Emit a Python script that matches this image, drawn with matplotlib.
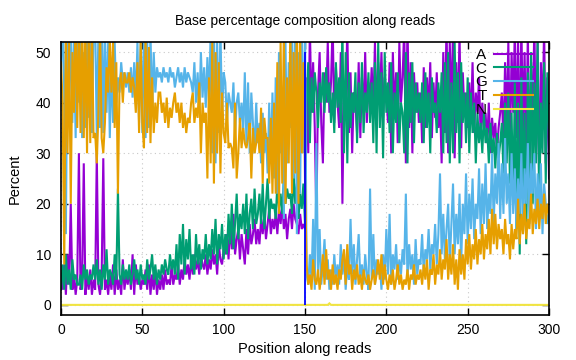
import matplotlib
matplotlib.use("Agg")
import matplotlib.pyplot as plt

# ---- data (percent per position) ----
positions = list(range(0, 301))

A_values = [
    5,
    3, 8, 2, 10, 4, 20, 3, 6, 2, 5,
    30, 3, 5, 28, 2, 6, 3, 7, 2, 5,
    3, 30, 4, 2, 6, 29, 3, 5, 2, 6,
    3, 8, 2, 7, 3, 5, 2, 9, 3, 6,
    4, 7, 3, 10, 2, 8, 4, 6, 3, 5,
    4, 7, 3, 8, 2, 6, 3, 7, 2, 5,
    3, 6, 3, 7, 4, 5, 4, 8, 4, 6,
    5, 8, 4, 7, 5, 9, 6, 8, 5, 9,
    6, 10, 7, 9, 6, 10, 8, 7, 10, 6,
    9, 7, 11, 8, 10, 6, 12, 9, 8, 11,
    10, 14, 9, 16, 11, 18, 10, 13, 15, 9,
    14, 11, 8, 15, 10, 16, 12, 14, 17, 12,
    15, 12, 17, 14, 18, 13, 16, 19, 14, 17,
    15, 18, 14, 19, 16, 20, 15, 18, 13, 17,
    19, 15, 20, 17, 16, 14, 18, 15, 16, 15,
    45, 30, 55, 38, 48, 35, 17, 42, 50, 36,
    28, 46, 40, 52, 38, 44, 56, 36, 47, 40,
    35, 50, 20, 44, 38, 55, 34, 46, 30, 42,
    40, 34, 48, 33, 45, 38, 50, 36, 44, 40,
    47, 38, 52, 36, 48, 40, 50, 37, 45, 42,
    36, 48, 30, 50, 38, 46, 32, 52, 40, 45,
    55, 28, 56, 35, 48, 30, 46, 38, 44, 36,
    42, 32, 47, 35, 45, 38, 48, 33, 44, 37,
    46, 35, 40, 28, 50, 34, 56, 30, 52, 38,
    55, 29, 48, 36, 54, 31, 46, 38, 42, 35,
    44, 36, 48, 34, 42, 38, 45, 33, 40, 35,
    38, 32, 40, 30, 37, 33, 36, 30, 35, 38,
    42, 32, 48, 35, 52, 30, 50, 38, 55, 33,
    52, 28, 56, 34, 50, 30, 54, 25, 48, 35,
    56, 30, 52, 22, 48, 36, 55, 28, 45, 25,
]

C_values = [
    3,
    8, 3, 10, 4, 7, 3, 9, 5, 6, 4,
    4, 6, 3, 8, 5, 7, 4, 6, 5, 8,
    5, 9, 4, 7, 3, 8, 5, 11, 4, 7,
    6, 4, 10, 5, 23, 6, 4, 8, 5, 7,
    5, 8, 4, 6, 9, 5, 7, 4, 8, 5,
    6, 4, 9, 5, 7, 10, 5, 8, 4, 7,
    5, 8, 6, 9, 7, 6, 10, 7, 9, 6,
    12, 5, 14, 8, 16, 6, 13, 9, 15, 7,
    10, 6, 14, 8, 12, 7, 11, 9, 14, 8,
    12, 9, 15, 10, 17, 8, 14, 11, 16, 9,
    14, 10, 18, 12, 20, 11, 16, 22, 13, 18,
    15, 20, 14, 22, 13, 18, 21, 15, 23, 16,
    18, 22, 16, 24, 15, 20, 25, 17, 21, 19,
    20, 17, 24, 19, 22, 18, 25, 20, 23, 21,
    22, 18, 26, 20, 24, 17, 22, 19, 24, 16,
    40, 48, 32, 45, 38, 46, 42, 35, 44, 40,
    46, 38, 47, 40, 44, 36, 42, 34, 48, 39,
    45, 36, 55, 30, 50, 28, 46, 35, 42, 38,
    46, 32, 44, 36, 48, 34, 42, 38, 46, 36,
    44, 32, 48, 30, 52, 35, 46, 29, 50, 38,
    44, 34, 48, 30, 42, 36, 46, 32, 40, 38,
    30, 50, 28, 46, 36, 48, 32, 44, 38, 42,
    36, 44, 32, 46, 35, 42, 30, 45, 38, 40,
    34, 44, 38, 46, 30, 48, 32, 50, 28, 44,
    30, 52, 34, 46, 28, 48, 36, 42, 32, 45,
    30, 42, 34, 40, 28, 38, 32, 36, 30, 38,
    32, 35, 28, 36, 30, 33, 27, 34, 29, 32,
    36, 26, 40, 28, 42, 24, 38, 20, 44, 15,
    40, 10, 45, 22, 38, 12, 46, 25, 50, 20,
    44, 28, 52, 18, 40, 30, 48, 24, 46, 35,
]

G_values = [
    45,
    60, 42, 14, 55, 38, 58, 36, 52, 33, 56,
    40, 56, 33, 50, 35, 58, 37, 54, 34, 55,
    56, 33, 54, 35, 57, 34, 55, 38, 52, 33,
    48, 36, 52, 40, 45, 42, 48, 44, 46, 43,
    46, 42, 47, 41, 48, 40, 52, 36, 53, 34,
    55, 33, 52, 35, 54, 38, 50, 42, 47, 45,
    46, 44, 47, 45, 46, 44, 47, 45, 46, 43,
    45, 47, 44, 46, 43, 47, 44, 46, 45, 44,
    42, 48, 40, 46, 38, 50, 41, 47, 39, 49,
    40, 54, 30, 56, 28, 52, 34, 55, 37, 46,
    44, 36, 42, 40, 38, 44, 34, 40, 42, 36,
    40, 34, 46, 32, 44, 30, 42, 36, 30, 40,
    32, 36, 28, 38, 30, 34, 26, 40, 28, 42,
    25, 45, 22, 50, 30, 40, 17, 52, 28, 48,
    35, 55, 25, 58, 14, 50, 22, 56, 30, 54,
    6, 4, 10, 5, 17, 3, 32, 6, 15, 4,
    8, 13, 5, 9, 3, 7, 4, 10, 5, 8,
    4, 12, 6, 10, 3, 8, 5, 17, 6, 12,
    4, 9, 14, 5, 8, 4, 10, 6, 3, 23,
    5, 14, 4, 9, 6, 8, 3, 10, 5, 15,
    6, 18, 4, 10, 7, 12, 5, 9, 6, 11,
    8, 22, 5, 12, 7, 10, 4, 13, 6, 9,
    8, 14, 6, 11, 9, 15, 7, 12, 10, 16,
    8, 14, 26, 10, 18, 9, 15, 20, 8, 16,
    24, 10, 18, 12, 22, 8, 20, 14, 26, 12,
    22, 15, 25, 13, 20, 17, 27, 14, 24, 16,
    28, 15, 22, 18, 30, 16, 26, 20, 32, 17,
    28, 18, 33, 20, 26, 16, 30, 18, 27, 15,
    25, 18, 30, 14, 27, 20, 32, 16, 28, 22,
    30, 15, 26, 18, 28, 14, 24, 20, 16, 18,
]

T_values = [
    48,
    40, 8, 55, 30, 52, 20, 50, 38, 58, 35,
    55, 34, 58, 33, 56, 30, 55, 32, 57, 33,
    34, 28, 38, 55, 33, 30, 36, 47, 42, 53,
    42, 52, 35, 48, 22, 44, 46, 40, 46, 44,
    44, 46, 42, 45, 43, 38, 48, 34, 52, 36,
    31, 53, 34, 51, 32, 45, 34, 40, 36, 42,
    42, 38, 40, 36, 41, 35, 39, 37, 40, 42,
    38, 40, 36, 40, 35, 38, 34, 37, 36, 40,
    42, 36, 39, 37, 44, 30, 40, 36, 38, 25,
    45, 28, 52, 24, 50, 30, 48, 26, 42, 34,
    32, 40, 31, 32, 31, 27, 40, 25, 30, 37,
    31, 35, 32, 31, 33, 36, 25, 35, 30, 32,
    35, 30, 39, 24, 37, 33, 33, 24, 37, 22,
    40, 22, 48, 18, 52, 24, 55, 20, 45, 28,
    56, 22, 50, 26, 58, 20, 54, 30, 48, 25,
    8, 4, 6, 3, 9, 5, 4, 7, 3, 6,
    10, 4, 11, 5, 7, 3, 8, 4, 6, 3,
    7, 5, 9, 11, 4, 12, 6, 8, 3, 7,
    5, 8, 4, 6, 3, 7, 5, 4, 6, 3,
    5, 7, 4, 6, 9, 5, 10, 4, 8, 5,
    3, 6, 4, 7, 3, 5, 8, 4, 6, 3,
    5, 4, 7, 3, 6, 5, 8, 4, 6, 5,
    7, 4, 8, 5, 9, 3, 7, 6, 10, 4,
    8, 6, 11, 5, 9, 7, 13, 5, 10, 6,
    12, 4, 9, 3, 11, 6, 10, 5, 13, 8,
    14, 7, 12, 9, 15, 8, 13, 10, 16, 9,
    14, 11, 17, 10, 19, 12, 18, 11, 16, 13,
    15, 10, 17, 12, 14, 9, 16, 11, 15, 13,
    21, 12, 18, 14, 20, 13, 17, 15, 22, 14,
    19, 16, 21, 15, 20, 17, 22, 16, 20, 18,
]

N_values = [
    0,
    0, 0, 0, 0, 0, 0, 0, 0, 0, 0,
    0, 0, 0, 0, 0, 0, 0, 0, 0, 0,
    0, 0, 0, 0, 0, 0, 0, 0, 0, 0,
    0, 0, 0, 0, 0, 0, 0, 0, 0, 0,
    0, 0, 0, 0, 0, 0, 0, 0, 0, 0,
    0, 0, 0, 0, 0, 0, 0, 0, 0, 0,
    0, 0, 0, 0, 0, 0, 0, 0, 0, 0,
    0, 0, 0, 0, 0, 0, 0, 0, 0, 0,
    0, 0, 0, 0, 0, 0, 0, 0, 0, 0,
    0, 0, 0, 0, 0, 0, 0, 0, 0, 0,
    0, 0, 0, 0, 0, 0, 0, 0, 0, 0,
    0, 0, 0, 0, 0, 0, 0, 0, 0, 0,
    0, 0, 0, 0, 0, 0, 0, 0, 0, 0,
    0, 0, 0, 0, 0, 0, 0, 0, 0, 0,
    0, 0, 0, 0, 0, 0, 0, 0, 0, 0,
    0, 0, 0, 0, 0, 0, 0, 0, 0, 0,
    0, 0, 0, 0, 0.3, 0, 0, 0, 0, 0,
    0, 0, 0, 0, 0, 0, 0, 0, 0, 0,
    0, 0, 0, 0, 0, 0, 0, 0, 0, 0,
    0, 0, 0, 0, 0, 0, 0, 0, 0, 0,
    0, 0, 0, 0, 0, 0, 0, 0, 0, 0,
    0, 0, 0, 0, 0, 0, 0, 0, 0, 0,
    0, 0, 0, 0, 0, 0, 0, 0, 0, 0,
    0, 0, 0, 0, 0, 0, 0, 0, 0, 0,
    0, 0, 0, 0, 0, 0, 0, 0, 0, 0,
    0, 0, 0, 0, 0, 0, 0, 0, 0, 0,
    0, 0, 0, 0, 0, 0, 0, 0, 0, 0,
    0, 0, 0, 0, 0, 0, 0, 0, 0, 0,
    0, 0, 0, 0, 0, 0, 0, 0, 0, 0,
    0, 0, 0, 0, 0, 0, 0, 0, 0, 0,
]

series_labels = ["A", "C", "G", "T", "N"]
series_colors = ["#9400D3", "#009E73", "#56B4E9", "#E69F00", "#F0E442"]
read_boundary = 150
boundary_top = 50

x_ticks = [0, 50, 100, 150, 200, 250, 300]
y_ticks = [0, 10, 20, 30, 40, 50]

title = "Base percentage composition along reads"
x_label = "Position along reads"
y_label = "Percent"

# ---- plotting ----
plt.rcParams["font.family"] = ["Liberation Sans", "DejaVu Sans"]
plt.rcParams["font.size"] = 10

fig = plt.figure(figsize=(5.76, 3.6), dpi=100)
ax = fig.add_axes([61 / 576, 1 - 315 / 360, 488 / 576, 273 / 360])

all_values = [A_values, C_values, G_values, T_values, N_values]
for vals, lab, col in zip(all_values, series_labels, series_colors):
    ax.plot(positions, vals, color=col, lw=1.5, label=lab, solid_joinstyle="miter")

ax.vlines(read_boundary, 0, boundary_top, color="#0000FF", lw=1.3, zorder=5)

ax.set_xlim(0, 300)
ax.set_ylim(-2, 52)
ax.set_xticks(x_ticks)
ax.set_yticks(y_ticks)
ax.tick_params(direction="in", top=True, right=True, length=5, width=1,
               labelsize=10)
ax.tick_params(axis="x", pad=6)
ax.tick_params(axis="y", pad=7)
ax.grid(True, color="#c8c8c8", linestyle=(0, (1, 3)), lw=0.8)
for sp in ax.spines.values():
    sp.set_linewidth(1.2)

ax.set_title(title, fontsize=10, pad=12)
ax.set_xlabel(x_label, fontsize=10.5, labelpad=3)
ax.set_ylabel(y_label, fontsize=10.5, labelpad=10)

leg = ax.legend(loc="upper right", bbox_to_anchor=(0.98, 1.0),
                markerfirst=False, frameon=False, handlelength=2.55,
                handletextpad=0.5, labelspacing=-0.02, borderaxespad=0,
                fontsize=11)
for t in leg.get_texts():
    t.set_ha("right")

fig.savefig("out.png", dpi=100)
